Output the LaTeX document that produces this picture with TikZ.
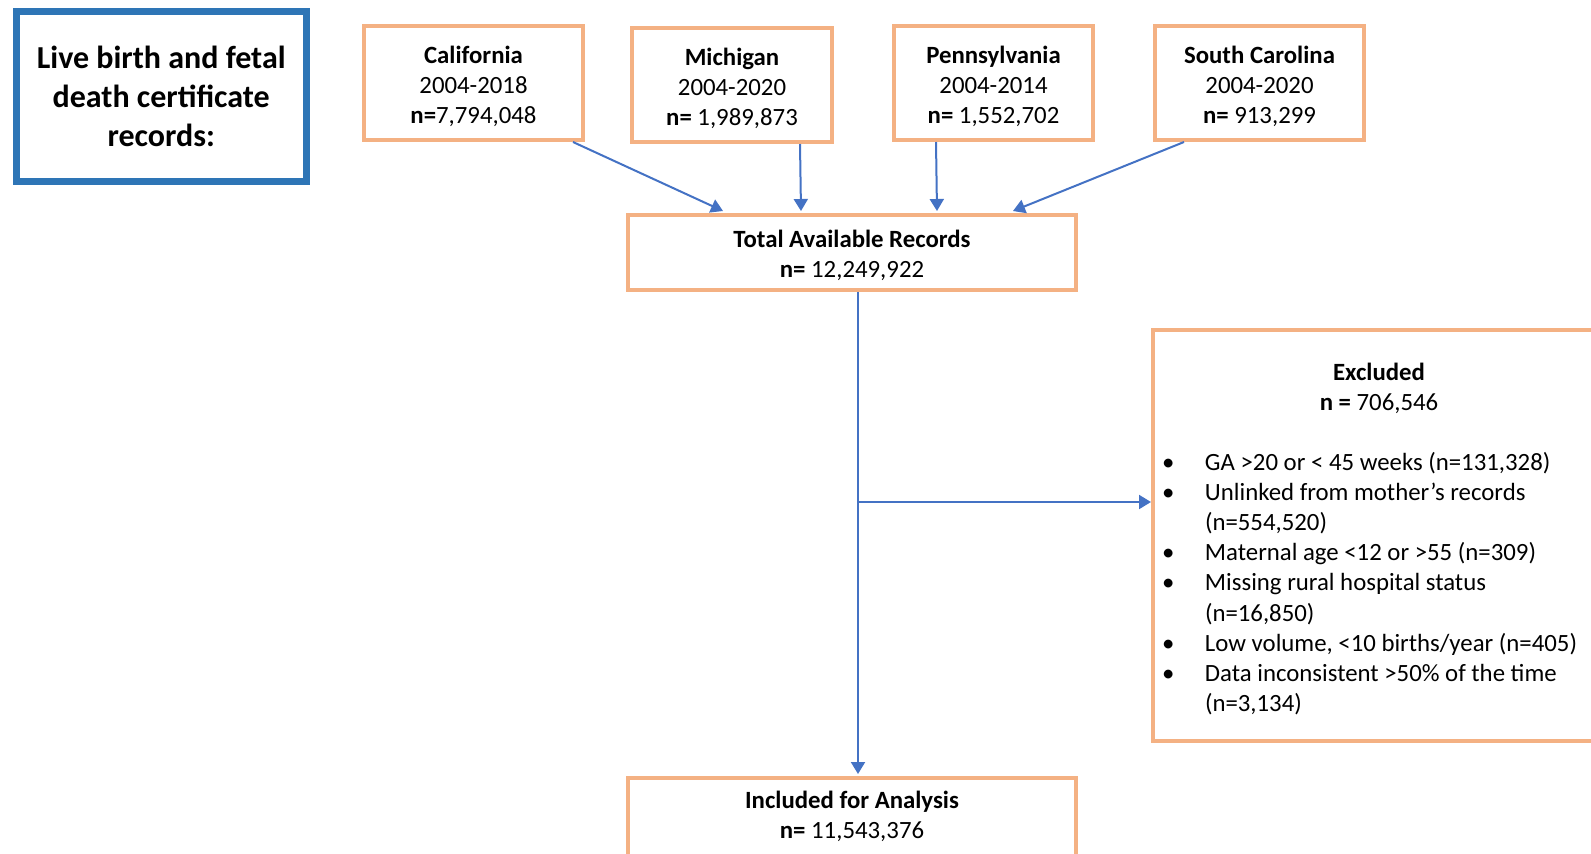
\documentclass[tikz,border=0pt]{standalone}
\usepackage{fontspec}
\setmainfont{Carlito}
\usetikzlibrary{positioning,arrows.meta}

\definecolor{boxorange}{RGB}{244,177,131}
\definecolor{titleblue}{RGB}{46,117,182}
\definecolor{arrowblue}{RGB}{68,114,196}
\newcommand{\boxfont}{\fontsize{12.4pt}{15.05pt}\selectfont\parindent=0pt}
\newcommand{\bul}{\hspace*{-2.5pt}\makebox[21.5pt][l]{\textbullet}}
\newcommand{\hang}{\hspace*{19pt}}

\begin{document}
\begin{tikzpicture}[
>={Triangle[width=7pt,length=6pt]},
x=0.5pt, y=-0.5pt,
block/.style={draw=boxorange, line width=2pt, fill=white, rectangle, align=flush center, font=\boxfont, text width=90pt, minimum height=57pt, execute at begin node={\rule{0pt}{12pt}}},
title/.style={draw=titleblue, line width=3.5pt, fill=white, rectangle, align=center, font=\fontsize{16pt}{19.5pt}\selectfont\bfseries, minimum width=144.75pt, minimum height=85pt},
link/.style={->, draw=arrowblue, line width=1pt}]

\useasboundingbox (0,0) rectangle (1591,853);

\node[title]	(rec) at (161.25,96.5)	{Live birth and fetal\\death certificate\\records:};

\node[block, minimum width=109.5pt, text width=100pt]	(cal) at (473.5,83)	{\textbf{California}\\2004-2018\\\textbf{n=}7,794,048};
\node[block, minimum width=100pt]	(mich)[right=22.5pt of cal, yshift=-1pt]	{\textbf{Michigan}\\2004-2020\\\textbf{n=} 1,989,873};
\node[block, minimum width=99.5pt]	(penn)[right=29pt of mich, yshift=1pt]	{\textbf{Pennsylvania}\\2004-2014\\\textbf{n=} 1,552,702};
\node[block, minimum width=104.5pt, text width=95pt]	(sc)[right=29pt of penn]	{\textbf{South Carolina}\\2004-2020\\\textbf{n=} 913,299};

\node[block, minimum width=224pt, text width=210pt, minimum height=37.5pt]	(total) at (852,252.5)	{\textbf{Total Available Records}\\\textbf{n=} 12,249,922};
\node[block, minimum width=224pt, text width=210pt, minimum height=37.5pt, text height=12pt, text depth=28pt]	(incl)[below=242pt of total]	{\textbf{Included for Analysis}\\\textbf{n=} 11,543,376};

\node[block, align=flush left, text width=212pt, inner xsep=7pt, minimum height=205.5pt]	(excl) at (1379,535.5)
 {{\centering\textbf{Excluded}\\\textbf{n =} 706,546\par}
 \vspace{\baselineskip}
 \bul GA >20 or < 45 weeks (n=131,328)\\
 \bul Unlinked from mother's records\\
 \hang(n=554,520)\\
 \bul Maternal age <12 or >55 (n=309)\\
 \bul Missing rural hospital status\\
 \hang(n=16,850)\\
 \bul Low volume, <10 births/year (n=405)\\
 \bul Data inconsistent >50\% of the time\\
 \hang(n=3,134)};

\coordinate (trunk) at ([xshift=3pt]total.south);
\coordinate (split) at (trunk |- 0,502);

\path[every edge/.style={link}]
 ([xshift=49.75pt]cal.south) edge ([xshift=-64.5pt, yshift=1pt]total.north)
 ([xshift=34pt]mich.south) edge ([xshift=-25.5pt, yshift=1pt]total.north)
 ([xshift=-28.75pt]penn.south) edge ([xshift=42.5pt, yshift=1pt]total.north)
 ([xshift=-37.75pt]sc.south) edge ([xshift=80.5pt, yshift=1pt]total.north)
 (trunk) edge ([xshift=3pt, yshift=1pt]incl.north)
 (split) edge (split -| excl.west);

\end{tikzpicture}
\end{document}
